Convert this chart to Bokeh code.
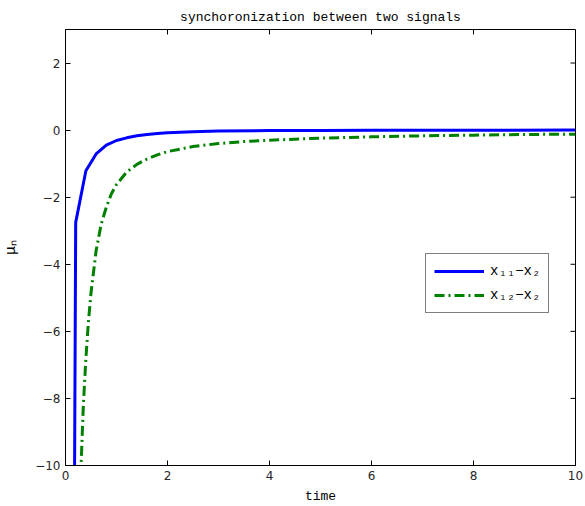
import math
from bokeh.plotting import figure
from bokeh.models import Legend, LegendItem, FixedTicker, Range1d
from bokeh.embed import file_html
from bokeh.resources import INLINE

# error between the slave outputs and the master signal over time
t_11 = [0.0, 0.2, 0.4, 0.6, 0.8, 1.0, 1.2, 1.4, 1.6, 1.8, 2.0, 2.5, 3.0, 4.0, 5.0, 6.0, 8.0, 10.0]
e_11 = [-70.0, -2.75, -1.21, -0.71, -0.45, -0.31, -0.23, -0.17, -0.13, -0.10, -0.08,
        -0.05, -0.03, -0.015, -0.008, -0.004, -0.001, 0.0]

t_12 = [0.28, 0.3, 0.35, 0.4, 0.45, 0.5, 0.6, 0.7, 0.8, 0.9, 1.0, 1.2, 1.4, 1.6, 1.8,
        2.0, 2.5, 3.0, 3.5, 4.0, 5.0, 6.0, 7.0, 8.0, 9.0, 10.0]
e_12 = [-11.5, -10.2, -8.2, -6.8, -5.7, -4.85, -3.6, -2.8, -2.3, -1.9, -1.62, -1.25,
        -1.02, -0.86, -0.74, -0.64, -0.49, -0.40, -0.34, -0.30, -0.24, -0.20, -0.17,
        -0.15, -0.13, -0.12]

x_ticks = [0, 2, 4, 6, 8, 10]
y_ticks = [-10, -8, -6, -4, -2, 0, 2]
x_lim = (0, 10)
y_lim = (-10, 3)
labels = ["x\u2081\u2081\u2212x\u2082", "x\u2081\u2082\u2212x\u2082"]

MONO = "Liberation Mono"
SANS = "DejaVu Sans"

p = figure(width=585, height=506, output_backend="svg", toolbar_location=None,
           x_range=Range1d(*x_lim), y_range=Range1d(*y_lim),
           min_border_left=65, min_border_right=10, min_border_top=29,
           min_border_bottom=41, title="synchoronization between two signals")

p.title.text_font = MONO
p.title.text_font_size = "13px"
p.title.text_font_style = "normal"
p.title.text_color = "black"
p.title.align = "center"
p.title.offset = 0

p.grid.visible = False
p.outline_line_color = "black"
p.outline_line_width = 1

for ax in (p.xaxis[0], p.yaxis[0]):
    ax.major_tick_in = 5
    ax.major_tick_out = 0
    ax.minor_tick_in = 0
    ax.minor_tick_out = 0
    ax.major_label_text_font = SANS
    ax.major_label_text_font_size = "12px"
    ax.major_label_text_color = "#262626"
    ax.axis_label_text_font = MONO
    ax.axis_label_text_font_size = "13px"
    ax.axis_label_text_font_style = "normal"
    ax.axis_label_text_color = "black"
    ax.axis_line_color = "black"
    ax.major_tick_line_color = "black"
    ax.major_label_standoff = 5

p.xaxis[0].ticker = FixedTicker(ticks=x_ticks)
p.yaxis[0].ticker = FixedTicker(ticks=y_ticks)
p.xaxis[0].axis_label = "time"
p.xaxis[0].axis_label_standoff = 6
p.yaxis[0].axis_label = "\u03bc\u2099"
p.yaxis[0].axis_label_text_font_size = "15px"
p.yaxis[0].axis_label_standoff = 12

# mirrored inward ticks on the top and right edges of the box
p.ray(x=x_ticks, y=[y_lim[1]] * len(x_ticks), length=5, length_units="screen",
      angle=-math.pi / 2, line_color="black", line_width=1)
p.ray(x=[x_lim[1]] * len(y_ticks), y=y_ticks, length=5, length_units="screen",
      angle=math.pi, line_color="black", line_width=1)

r1 = p.line(t_11, e_11, line_color="#0000ff", line_width=3)
r2 = p.line(t_12, e_12, line_color="#008000", line_width=3, line_dash="10 4 2 4")

legend = Legend(items=[LegendItem(label=labels[0], renderers=[r1]),
                       LegendItem(label=labels[1], renderers=[r2])],
                location=(360, 152), orientation="vertical",
                label_text_font=MONO, label_text_font_size="14px",
                label_text_color="black",
                border_line_color="black", border_line_width=1,
                background_fill_color="white", background_fill_alpha=1.0,
                padding=8, spacing=6, margin=0,
                glyph_width=50, glyph_height=18, label_height=18, label_standoff=6)
p.add_layout(legend, "center")

open("out.html", "w").write(file_html(p, INLINE))
